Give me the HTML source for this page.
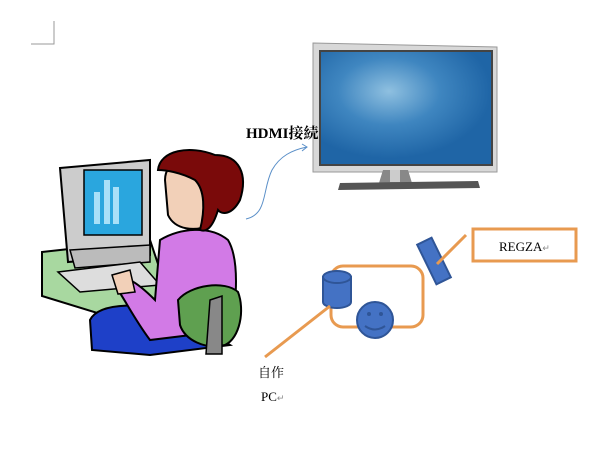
<!DOCTYPE html>
<html><head><meta charset="utf-8"><style>
html,body{margin:0;padding:0;background:#fff;width:616px;height:468px;overflow:hidden}
svg{display:block}
text{font-family:"Liberation Serif","Noto Serif CJK SC",serif}
</style></head><body>
<svg width="616" height="468" viewBox="0 0 616 468" xmlns="http://www.w3.org/2000/svg">
<defs>
<radialGradient id="scr" cx="0.4" cy="0.35" r="0.6">
<stop offset="0" stop-color="#8fc0e0"/><stop offset="0.5" stop-color="#3f86c0"/><stop offset="1" stop-color="#1f65a6"/>
</radialGradient>
</defs>
<!-- corner mark -->
<path d="M31 44 H54 V21" fill="none" stroke="#999" stroke-width="1"/>
<!-- TV -->
<path d="M313 43 L497 47 L497 172 L313 172 Z" fill="#d8d8d8" stroke="#999"/>
<rect x="319" y="50" width="174" height="116" fill="#444"/>
<rect x="321" y="52" width="170" height="112" fill="url(#scr)"/>
<path d="M383 170 L408 170 L412 183 L379 183 Z" fill="#888"/>
<rect x="390" y="170" width="10" height="12" fill="#ccc"/>
<path d="M340 183 L478 181 L480 188 L338 190 Z" fill="#555"/>
<!-- HDMI text -->
<text x="246" y="138" font-size="15" font-weight="bold" fill="#000">HDMI接続</text>
<path d="M246 219 C268 214 262 190 272 170 C280 156 292 150 307 147" fill="none" stroke="#5a8fc8" stroke-width="1"/>
<path d="M302 144 L307 147 L302 151" fill="none" stroke="#5a8fc8" stroke-width="1"/>
<!-- desk -->
<path d="M42 252 L150 240 L170 300 L120 320 L42 296 Z" fill="#a8d8a0" stroke="#000" stroke-width="2"/>
<!-- monitor -->
<path d="M60 168 L150 160 L150 255 L68 262 Z" fill="#ccc" stroke="#000" stroke-width="2"/>
<rect x="84" y="170" width="58" height="65" fill="#2aa6de" stroke="#000" stroke-width="1.5"/>
<rect x="94" y="192" width="6" height="32" fill="#a8e0f8"/>
<rect x="104" y="180" width="6" height="44" fill="#a8e0f8"/>
<rect x="113" y="187" width="6" height="37" fill="#a8e0f8"/>
<path d="M70 250 L150 245 L150 262 L75 268 Z" fill="#bbb" stroke="#000" stroke-width="1.5"/>
<path d="M58 272 L140 262 L160 285 L80 292 Z" fill="#ddd" stroke="#000" stroke-width="1.5"/>
<!-- person body -->
<path d="M90 320 C100 300 150 305 170 310 L230 345 L150 355 L92 350 Z" fill="#1e40c8" stroke="#000" stroke-width="2"/>
<path d="M160 240 C180 228 210 225 228 240 C240 260 236 300 232 330 L150 340 C135 320 125 300 118 290 L130 280 C140 285 150 295 155 300 Z" fill="#d27ae6" stroke="#000" stroke-width="2"/>
<path d="M112 275 L130 270 L135 292 L118 294 Z" fill="#f2d0b8" stroke="#000" stroke-width="1.5"/>
<!-- head -->
<path d="M165 180 C165 160 190 150 210 160 C225 170 220 210 210 225 C195 232 175 230 168 215 Z" fill="#f2d0b8" stroke="#000" stroke-width="2"/>
<path d="M158 170 C160 150 190 145 215 155 C240 155 248 175 240 200 C232 215 222 215 218 210 C212 230 205 232 200 230 C205 210 205 190 195 180 C180 172 165 170 158 170 Z" fill="#7a0a0a" stroke="#000" stroke-width="2"/>
<!-- chair -->
<path d="M178 300 C190 285 225 280 238 292 C245 310 240 338 225 345 C205 350 185 340 180 325 Z" fill="#5fa050" stroke="#000" stroke-width="2"/>
<path d="M210 300 L222 296 L222 354 L206 354 Z" fill="#888" stroke="#000" stroke-width="1.5"/>
<!-- orange diagram -->
<rect x="331" y="266" width="92" height="61" rx="12" fill="none" stroke="#e89a50" stroke-width="3"/>
<rect x="473" y="229" width="103" height="32" fill="none" stroke="#e89a50" stroke-width="3"/>
<g transform="rotate(-26 434 261)"><rect x="426" y="239" width="16" height="44" fill="#4472c4" stroke="#2f5597" stroke-width="2"/></g>
<line x1="437" y1="264" x2="466" y2="235" stroke="#e89a50" stroke-width="3"/>
<path d="M323 277 L323 302 A14 6 0 0 0 351 302 L351 277 Z" fill="#4472c4" stroke="#2f5597" stroke-width="2"/>
<ellipse cx="337" cy="277" rx="14" ry="6" fill="#4472c4" stroke="#2f5597" stroke-width="2"/>
<circle cx="375" cy="320" r="18" fill="#4472c4" stroke="#2f5597" stroke-width="2"/>
<circle cx="369" cy="314" r="2" fill="#2f5597"/><circle cx="381" cy="314" r="2" fill="#2f5597"/>
<path d="M365 326 Q375 333 385 326" fill="none" stroke="#2f5597" stroke-width="2"/>
<line x1="330" y1="306" x2="265" y2="357" stroke="#e89a50" stroke-width="3"/>
<text x="499" y="251" font-size="13" fill="#000">REGZA<tspan font-size="9" fill="#888">↵</tspan></text>
<text x="258" y="377" font-size="13" fill="#000" font-family="'Noto Sans CJK JP',sans-serif">自作</text>
<text x="261" y="401" font-size="13" fill="#000">PC<tspan font-size="9" fill="#888">↵</tspan></text>
</svg>
</body></html>
